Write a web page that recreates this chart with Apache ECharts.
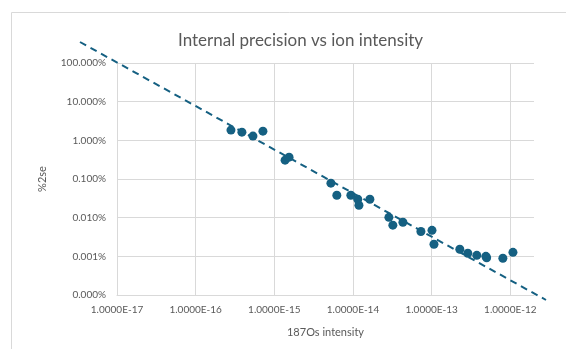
<!DOCTYPE html>
<html>
<head>
<meta charset="utf-8">
<script src="https://cdn.jsdelivr.net/npm/echarts@6/dist/echarts.min.js"></script>
<style>
  html, body { margin: 0; padding: 0; background: #fff; }
  #chart { width: 566px; height: 349px; }
</style>
</head>
<body>
<div id="chart"></div>
<script>
// 187Os intensity (x) and %2se as a fraction (y, 1 = 100%)
var intensity = [2.81e-16, 3.87e-16, 5.35e-16, 7.16e-16, 1.37e-15, 1.54e-15,
  5.24e-15, 6.23e-15, 9.39e-15, 1.15e-14, 1.19e-14, 1.64e-14,
  2.86e-14, 3.21e-14, 4.31e-14, 7.30e-14, 1.01e-13, 1.07e-13,
  2.28e-13, 2.88e-13, 3.75e-13, 4.89e-13, 5.0e-13, 8.04e-13, 1.08e-12];
var precision = [0.0184, 0.0163, 0.0129, 0.0173, 0.00307, 0.00367,
  7.8e-4, 3.8e-4, 3.8e-4, 3.0e-4, 2.1e-4, 3.0e-4,
  1.02e-4, 6.4e-5, 7.6e-5, 4.4e-5, 4.7e-5, 2.05e-5,
  1.52e-5, 1.2e-5, 1.06e-5, 1.0e-5, 9.2e-6, 8.9e-6, 1.27e-5];

// power trendline end points (straight on log-log), runs past the plot area
var trendX = [3.39e-18, 2.83e-12];
var trendY = [3.50, 7.24e-7];

var xMin = 1e-17, xMax = 2e-12;
var yMin = 1e-6, yMax = 1;

var points = intensity.map(function (v, i) { return [v, precision[i]]; });
var trend = trendX.map(function (v, i) { return [v, trendY[i]]; });

var textColor = '#595959';
var gridColor = '#d9d9d9';
var dotColor = '#156082';
var fontName = 'Lato';

var option = {
  animation: false,
  title: {
    text: 'Internal precision vs ion intensity',
    left: 173,
    top: 27,
    textStyle: { color: textColor, fontSize: 17, fontWeight: 'normal', fontFamily: fontName }
  },
  graphic: [{
    type: 'rect',
    z: -10,
    shape: { x: 11.5, y: 12.5, width: 600, height: 400 },
    style: { fill: 'none', stroke: gridColor, lineWidth: 1 }
  }],
  grid: [
    { left: 117, right: 32, top: 63, bottom: 54 },
    // same scale, wider box: lets the trendline run beyond the axes like Excel does
    { left: 80, right: 20, top: 42, bottom: 49 }
  ],
  xAxis: [{
    type: 'log',
    min: xMin,
    max: xMax,
    name: '187Os intensity',
    nameLocation: 'middle',
    nameGap: 32,
    nameTextStyle: { color: textColor, fontSize: 11, fontFamily: fontName },
    axisLine: { show: true, lineStyle: { color: gridColor } },
    axisTick: { show: false },
    splitLine: { show: true, showMaxLine: false, lineStyle: { color: gridColor } },
    axisLabel: {
      color: textColor, fontSize: 10, fontFamily: fontName, margin: 10,
      showMaxLabel: false,
      formatter: function (v) { return Number(v).toExponential(4).toUpperCase(); }
    }
  }, {
    type: 'log',
    gridIndex: 1,
    min: trendX[0],
    max: trendX[1],
    show: false
  }],
  yAxis: [{
    type: 'log',
    min: yMin,
    max: yMax,
    name: '%2se',
    nameLocation: 'middle',
    nameGap: 69,
    nameTextStyle: { color: textColor, fontSize: 11, fontFamily: fontName },
    axisLine: { show: true, lineStyle: { color: gridColor } },
    axisTick: { show: false },
    splitLine: { show: true, lineStyle: { color: gridColor } },
    axisLabel: {
      color: textColor, fontSize: 10, fontFamily: fontName, margin: 11,
      formatter: function (v) { return (Number(v) * 100).toFixed(3) + '%'; }
    }
  }, {
    type: 'log',
    gridIndex: 1,
    min: trendY[1],
    max: trendY[0],
    show: false
  }],
  series: [
    {
      type: 'scatter',
      data: points,
      symbolSize: 9,
      itemStyle: { color: dotColor, opacity: 1 },
      z: 3
    },
    {
      type: 'line',
      xAxisIndex: 1,
      yAxisIndex: 1,
      data: trend,
      clip: false,
      showSymbol: false,
      symbol: 'none',
      lineStyle: { color: dotColor, width: 2, type: [7, 5] },
      z: 2
    }
  ]
};

var chart = echarts.init(document.getElementById('chart'));
chart.setOption(option);
window.addEventListener('resize', function () { chart.resize(); });
</script>
</body>
</html>
